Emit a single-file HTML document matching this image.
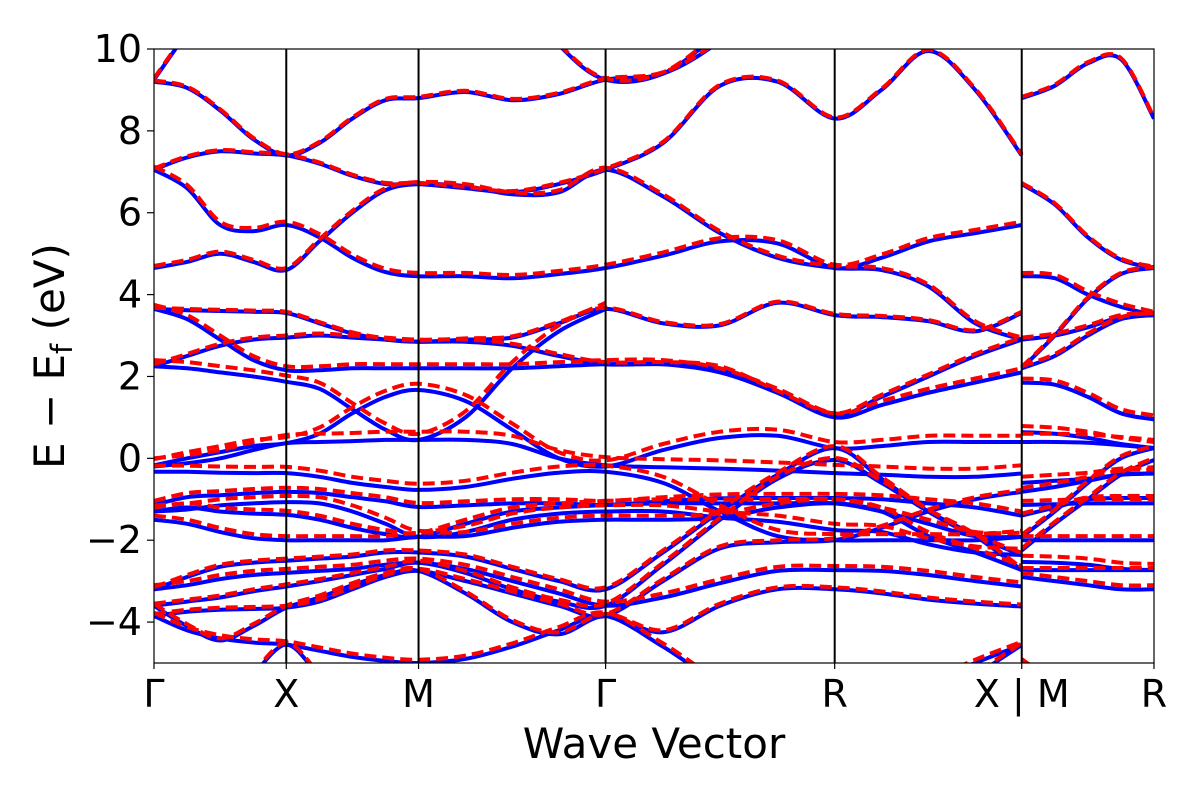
<!DOCTYPE html>
<html><head><meta charset="utf-8"><style>
html,body{margin:0;padding:0;background:#fff;}
svg{display:block;font-family:"DejaVu Sans","Liberation Sans",sans-serif;}
</style></head><body>
<svg id="chart" width="1200" height="800" viewBox="0 0 1200 800" xmlns="http://www.w3.org/2000/svg">
<defs><clipPath id="plotclip"><rect x="154" y="49" width="1000" height="614"/></clipPath></defs>
<rect x="0" y="0" width="1200" height="800" fill="#fff"/>
<g id="bands" clip-path="url(#plotclip)"></g>
<g id="vlines"></g>
<rect x="154" y="49" width="1000" height="614" fill="none" stroke="#000" stroke-width="1.2"/>
<g id="yticks"></g>
<g id="xticks"></g>
<text x="654" y="758" font-size="42" text-anchor="middle">Wave Vector</text>
<text transform="translate(64,356) rotate(-90)" font-size="42" text-anchor="middle">E − E<tspan font-size="29" dy="8">f</tspan><tspan dy="-8"> (eV)</tspan></text>
</svg>
<script>
// k-point sample coordinates (reciprocal path distance units)
const kPath1 = [0,0.125,0.25,0.375,0.5, 0.625,0.75,0.875,1.0, 1.177,1.354,1.53,1.707, 1.924,2.14,2.357,2.573, 2.75,2.927,3.104,3.28];
const kPath2 = [3.28,3.405,3.53,3.655,3.78];
const kTicks = [0,0.5,1.0,1.707,2.573,3.28,3.78];
const kTickLabels = ["Γ","X","M","Γ","R","X | M","R"];
const yTicks = [-4,-2,0,2,4,6,8,10];
const yTickLabels = ["−4","−2","0","2","4","6","8","10"];
const N = null;
// band energies (eV): 21 values on path1 + 5 values on path2
const bandT1 = [9.25,10.4,11.5,11.5,11.5, 11.5,10.3,11.5,11.5, 11.5,11.5,10.1,9.25, 9.4,10.4,11.5,11.5, 11.5,11.5,11.5,11.5, 11.5,11.5,11.5,11.5,11.5];
const bandT2 = [9.2,9.05,8.5,7.8,7.4, 7.7,8.3,8.75,8.8, 8.95,8.75,8.9,9.25, 9.4,10.2,11.5,11.5, 11.5,11.5,11.5,11.5, 8.8,9.1,9.65,9.75,8.3];
const bandT3 = [7.05,7.35,7.5,7.45,7.4, 7.2,6.9,6.7,6.7, 6.6,6.5,6.7,7.05, 7.7,9.1,9.2,8.3, 9.0,9.95,9.0,7.4, 6.7,6.2,5.4,4.85,4.65];
const bandT4 = [7.05,6.6,5.7,5.55,5.7, 5.4,4.9,4.55,4.45, 4.45,4.4,4.5,4.65, 4.95,5.3,5.25,4.65, 4.9,5.3,5.5,5.7, 4.45,4.4,4.0,3.7,3.5];
const bandT5 = [4.65,4.8,5.0,4.8,4.6, 5.3,6.0,6.55,6.7, 6.65,6.45,6.5,7.05, 6.4,5.5,4.9,4.65, 4.6,4.2,3.3,2.9, 2.9,3.0,3.2,3.45,3.5];
const bandT6 = [3.65,3.62,3.6,3.58,3.55, 3.3,3.05,2.9,2.85, 2.9,2.95,3.3,3.65, 3.3,3.25,3.8,3.5, 3.45,3.35,3.1,3.55, 2.2,3.0,3.9,4.5,4.65];
const bandT7 = [3.65,3.4,2.9,2.4,2.15, 2.15,2.2,2.2,2.2, 2.2,2.2,2.25,2.3, 2.3,2.1,1.6,1.0, 1.3,1.6,1.85,2.1, 1.85,1.8,1.5,1.1,0.95];
const bandT8 = [2.25,2.5,2.75,2.9,2.95, 3.0,2.95,2.9,2.85, 2.85,2.75,2.5,2.3, 2.3,2.2,1.6,1.05, 1.5,2.0,2.5,2.9, 2.2,2.5,3.0,3.4,3.5];
const bandU1 = [2.25,2.2,2.1,2.0,1.87, 1.7,1.2,0.7,0.45, 1.0,2.2,3.1,3.65, N,N,N,N, N,N,N,N, N,N,N,N,N];
const bandL1 = [-0.17,0.0,0.15,0.3,0.37, 0.6,1.1,1.5,1.67, 1.4,0.7,0.0,-0.2, 0.2,0.5,0.55,0.25, 0.3,0.4,0.4,0.4, 0.64,0.6,0.5,0.35,0.25];
const bandL1b = [-0.2,-0.12,0.0,0.2,0.37, 0.4,0.42,0.45,0.45, 0.45,0.35,0.0,-0.17, -0.22,-0.25,-0.3,-0.36, -0.4,-0.45,-0.45,-0.37, 0.4,0.4,0.38,0.32,0.25];
const bandL2 = [-0.33,-0.33,-0.35,-0.36,-0.36, -0.45,-0.6,-0.7,-0.77, -0.7,-0.5,-0.35,-0.33, -0.6,-1.3,-1.9,-2.0, -2.0,-2.0,-2.0,-1.92, -0.6,-0.55,-0.5,-0.4,-0.37];
const bandL4 = [-1.14,-0.95,-0.9,-0.85,-0.82, -0.85,-0.95,-1.05,-1.19, -1.15,-1.1,-1.1,-1.14, -1.05,-0.98,-0.97,-0.97, -1.0,-1.1,-1.2,-1.4, -1.14,-1.12,-1.1,-1.1,-1.1];
const bandL5 = [-1.3,-1.25,-1.15,-1.1,-1.07, -1.1,-1.3,-1.6,-1.92, -1.8,-1.5,-1.35,-1.3, -1.3,-1.45,-1.55,-1.75, -1.8,-2.1,-2.3,-2.36, -2.53,-2.55,-2.6,-2.7,-2.73];
const bandL6 = [-1.5,-1.6,-1.8,-1.95,-2.0, -2.0,-2.0,-2.0,-1.92, -1.9,-1.7,-1.55,-1.5, -1.5,-1.45,-1.2,-1.1, -1.3,-1.9,-2.3,-2.73, -0.82,-0.7,-0.55,-0.4,-0.37];
const bandL7 = [-3.2,-2.9,-2.65,-2.55,-2.5, -2.45,-2.4,-2.3,-2.3, -2.4,-2.7,-3.0,-3.2, -2.3,-1.3,-0.4,0.25, -0.5,-1.3,-1.9,-2.36, -2.25,-1.6,-1.0,-0.4,-0.04];
const bandL8 = [-3.2,-3.1,-2.95,-2.85,-2.8, -2.75,-2.7,-2.6,-2.55, -2.7,-3.0,-3.3,-3.6, -3.4,-3.05,-2.75,-2.73, -2.75,-2.85,-3.0,-3.13, -2.9,-3.0,-3.1,-3.2,-3.2];
const bandL9 = [-3.6,-3.5,-3.4,-3.25,-3.13, -3.0,-2.85,-2.7,-2.55, -2.8,-3.2,-3.5,-3.6, -2.6,-1.5,-0.5,-0.04, -0.6,-1.3,-1.9,-2.73, -1.92,-1.3,-0.6,0.0,0.25];
const bandL10 = [-3.6,-4.1,-4.45,-4.1,-3.65, -3.4,-3.1,-2.85,-2.75, -3.3,-4.0,-4.3,-3.85, -4.25,-3.6,-3.2,-3.2, -3.3,-3.45,-3.55,-3.62, -2.73,-2.73,-2.73,-2.73,-2.73];
const bandL11 = [-3.85,-4.2,-4.4,-4.5,-4.55, -4.7,-4.85,-4.95,-5.0, -4.9,-4.6,-4.2,-3.85, -4.6,-5.5,-6,-6, -6,-5.5,-5.0,-4.56, -5.0,-5.5,-6,-6,-6];
const bandL12 = [-3.85,-3.75,-3.7,-3.68,-3.65, -3.5,-3.2,-2.9,-2.75, -3.0,-3.3,-3.6,-3.85, -3.0,-2.2,-2.05,-2.0, -1.7,-1.3,-1.0,-0.82, -1.4,-1.2,-1.0,-0.97,-0.97];
const bandL13 = [-1.3,-1.2,-1.3,-1.35,-1.38, -1.5,-1.7,-1.85,-1.92, -1.6,-1.3,-1.2,-1.14, -1.1,-1.1,-1.1,-1.1, -1.3,-1.6,-1.9,-1.92, -2.0,-2.0,-2.0,-2.0,-2.0];
const bandL14 = [N,N,N,-5.3,-4.55, -5.3,-6,N,N, N,N,N,N, N,N,N,N, -6,-6,-5.3,-4.56, -4.95,-5.6,N,N,N];
const bandsBlue = [bandT1,bandT2,bandT3,bandT4,bandT5,bandT6,bandT7,bandT8,bandU1,bandL1,bandL1b,bandL2,bandL4,bandL5,bandL6,bandL7,bandL8,bandL9,bandL10,bandL11,bandL12,bandL13,bandL14];
// spin-down (red) shift relative to spin-up, per band (eV)
const redShift = [0.03,0.03,0.03,0.08,0.05,0.03,0.1,0.05,0.15,0.15,0.2,0.15,0.1,0.15,0.1,0.05,0.1,0.05,0.05,0.08,0.05,0.1,0.05];

const X0=154, X1=1154, Y0=663, Y1=49, KMAX=3.78, EMIN=-5, EMAX=10;
function xScale(k){return X0+(k/KMAX)*(X1-X0);}
function yScale(e){return Y0-(e-EMIN)/(EMAX-EMIN)*(Y0-Y1);}
const NS="http://www.w3.org/2000/svg";
function crPath(pts){
  if(pts.length<2) return "";
  let d="M"+pts[0][0].toFixed(1)+","+pts[0][1].toFixed(1);
  for(let i=0;i<pts.length-1;i++){
    const p0=pts[Math.max(i-1,0)],p1=pts[i],p2=pts[i+1],p3=pts[Math.min(i+2,pts.length-1)];
    const c1x=p1[0]+(p2[0]-p0[0])/6,c1y=p1[1]+(p2[1]-p0[1])/6;
    const c2x=p2[0]-(p3[0]-p1[0])/6,c2y=p2[1]-(p3[1]-p1[1])/6;
    d+=" C"+c1x.toFixed(1)+","+c1y.toFixed(1)+" "+c2x.toFixed(1)+","+c2y.toFixed(1)+" "+p2[0].toFixed(1)+","+p2[1].toFixed(1);
  }
  return d;
}
function segments(vals,shift){
  const out=[];
  const paths=[[kPath1,vals.slice(0,21)],[kPath2,vals.slice(21,26)]];
  paths.forEach(([ks,es])=>{
    let cur=[];
    for(let i=0;i<ks.length;i++){
      if(es[i]===null){ if(cur.length>1) out.push(cur); cur=[]; }
      else cur.push([xScale(ks[i]),yScale(es[i]+shift)]);
    }
    if(cur.length>1) out.push(cur);
  });
  return out;
}
const gB=document.getElementById("bands");
const blueG=document.createElementNS(NS,"g");


const redG=document.createElementNS(NS,"g");


gB.appendChild(blueG); gB.appendChild(redG);
bandsBlue.forEach((b,bi)=>{
  segments(b,0).forEach(s=>{
    const p=document.createElementNS(NS,"path");
    p.setAttribute("d",crPath(s)); p.setAttribute("fill","none"); p.setAttribute("stroke","#0000ff"); p.setAttribute("stroke-width","4");
    
    
    blueG.appendChild(p);
  });
  segments(b,redShift[bi]).forEach(s=>{
    const p=document.createElementNS(NS,"path");
    p.setAttribute("d",crPath(s)); p.setAttribute("fill","none"); p.setAttribute("stroke","#ff0000"); p.setAttribute("stroke-width","4"); p.setAttribute("stroke-dasharray","12,6");
    
    
    redG.appendChild(p);
  });
});
const gV=document.getElementById("vlines");
kTicks.slice(1,-1).forEach(k=>{
  const l=document.createElementNS(NS,"line");
  l.setAttribute("x1",xScale(k));l.setAttribute("x2",xScale(k));l.setAttribute("y1",Y1);l.setAttribute("y2",Y0);
  l.setAttribute("stroke","#000");l.setAttribute("stroke-width","2");
  
  
  gV.appendChild(l);
});
const gY=document.getElementById("yticks");
yTicks.forEach((v,i)=>{
  const y=yScale(v);
  const t=document.createElementNS(NS,"line");
  t.setAttribute("x1",147);t.setAttribute("x2",154);t.setAttribute("y1",y);t.setAttribute("y2",y);t.setAttribute("stroke","#000");t.setAttribute("stroke-width","1.2");
  
  
  gY.appendChild(t);
  const tx=document.createElementNS(NS,"text");
  tx.setAttribute("x",142);tx.setAttribute("y",y+13);tx.setAttribute("font-size","38");tx.setAttribute("text-anchor","end");
  tx.textContent=yTickLabels[i];
  
  
  gY.appendChild(tx);
});
const gX=document.getElementById("xticks");
kTicks.forEach((k,i)=>{
  const x=xScale(k);
  const t=document.createElementNS(NS,"line");
  t.setAttribute("x1",x);t.setAttribute("x2",x);t.setAttribute("y1",663);t.setAttribute("y2",669);t.setAttribute("stroke","#000");t.setAttribute("stroke-width","1.2");
  
  
  gX.appendChild(t);
  const tx=document.createElementNS(NS,"text");
  tx.setAttribute("x",x);tx.setAttribute("y",707);tx.setAttribute("font-size","38");tx.setAttribute("text-anchor","middle");
  tx.textContent=kTickLabels[i];
  
  
  gX.appendChild(tx);
});
</script>
</body></html>
